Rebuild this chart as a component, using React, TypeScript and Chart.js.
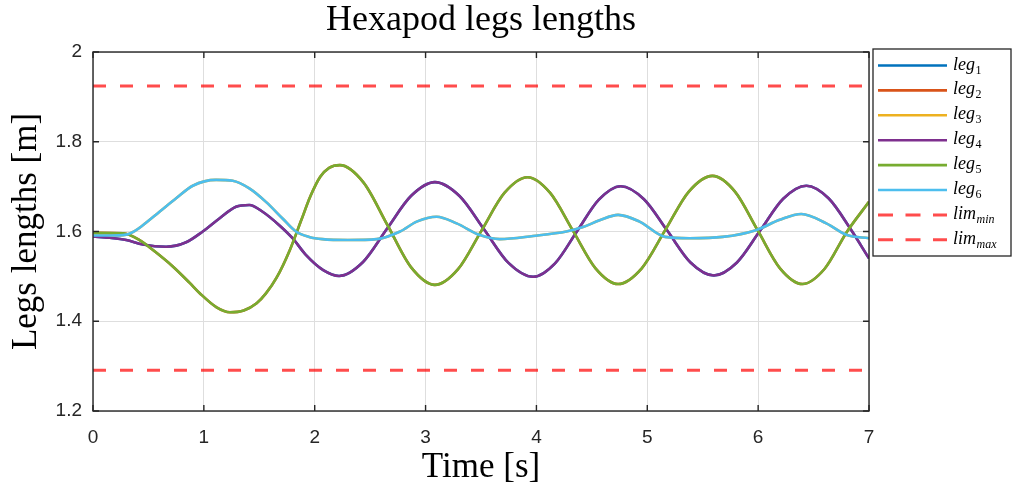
import { useEffect, useRef } from "react";
import { Chart, registerables } from "chart.js";

Chart.register(...registerables);

// ---- data ----
const leg4Time = [0, 0.15, 0.3, 0.45, 0.66, 0.84, 0.99, 1.14, 1.29, 1.41, 1.53, 1.68, 1.8, 1.92, 2.077, 2.22, 2.436, 2.652, 2.868, 3.084, 3.306, 3.527, 3.748, 3.97, 4.168, 4.365, 4.563, 4.76, 4.97, 5.18, 5.39, 5.6, 5.809, 6.018, 6.226, 6.435, 6.635, 6.835, 7.0];
const leg4Values = [1.589, 1.586, 1.581, 1.571, 1.566, 1.576, 1.6, 1.629, 1.655, 1.659, 1.644, 1.614, 1.585, 1.548, 1.514, 1.501, 1.532, 1.606, 1.679, 1.71, 1.679, 1.605, 1.53, 1.499, 1.529, 1.6, 1.671, 1.701, 1.672, 1.602, 1.531, 1.502, 1.531, 1.602, 1.673, 1.702, 1.674, 1.605, 1.54];

const leg5Time = [0, 0.27, 0.42, 0.57, 0.72, 0.87, 0.965, 1.115, 1.235, 1.36, 1.476, 1.56, 1.656, 1.776, 1.88, 1.96, 2.05, 2.13, 2.227, 2.441, 2.656, 2.87, 3.084, 3.293, 3.502, 3.711, 3.92, 4.124, 4.329, 4.533, 4.737, 4.95, 5.163, 5.375, 5.588, 5.791, 5.994, 6.197, 6.4, 6.6, 6.8, 7.0];
const leg5Values = [1.597, 1.596, 1.581, 1.553, 1.522, 1.486, 1.462, 1.431, 1.42, 1.424, 1.44, 1.462, 1.497, 1.559, 1.626, 1.678, 1.722, 1.742, 1.748, 1.709, 1.6145, 1.52, 1.481, 1.516, 1.601, 1.686, 1.721, 1.686, 1.602, 1.518, 1.483, 1.518, 1.6035, 1.689, 1.724, 1.689, 1.6035, 1.518, 1.483, 1.517, 1.599, 1.666];

const leg6Time = [0, 0.15, 0.3, 0.375, 0.45, 0.6, 0.75, 0.9, 1.11, 1.26, 1.41, 1.56, 1.71, 1.83, 1.95, 2.07, 2.3, 2.56, 2.77, 2.92, 3.1, 3.28, 3.49, 3.67, 3.97, 4.27, 4.42, 4.57, 4.737, 4.93, 5.16, 5.38, 5.68, 5.98, 6.195, 6.39, 6.615, 6.8, 7.0];
const leg6Values = [1.591, 1.591, 1.593, 1.601, 1.614, 1.644, 1.674, 1.702, 1.715, 1.713, 1.696, 1.666, 1.629, 1.6, 1.588, 1.583, 1.581, 1.583, 1.6, 1.622, 1.633, 1.618, 1.592, 1.583, 1.59, 1.6, 1.61, 1.625, 1.637, 1.622, 1.588, 1.585, 1.588, 1.603, 1.626, 1.639, 1.618, 1.592, 1.585];

// legs 1-3 lie underneath legs 4-6 in the reference
const leg1Time = leg4Time;
const leg1Values = leg4Values;
const leg2Time = leg5Time;
const leg2Values = leg5Values;
const leg3Time = leg6Time;
const leg3Values = leg6Values;

const limTime = [0, 7];
const limMinValue = 1.291;
const limMaxValue = 1.924;

const legendBase = ["leg", "leg", "leg", "leg", "leg", "leg", "lim", "lim"];
const legendSub = ["1", "2", "3", "4", "5", "6", "min", "max"];
const seriesColors = ["#0072BD", "#D95319", "#EDB120", "#7E2F8E", "#77AC30", "#4DBEEE", "rgba(255,0,0,0.7)", "rgba(255,0,0,0.7)"];

const titleText = "Hexapod legs lengths";
const xTitle = "Time [s]";
const yTitle = "Legs lengths [m]";

const W = 1013;
const H = 492;

function pts(t: number[], v: number[]) {
  return t.map((x, i) => ({ x, y: v[i] }));
}

const framePlugin = {
  id: "frameAndLegend",
  afterDraw(chart: any) {
    const { ctx, chartArea } = chart;
    const { left, right, top, bottom } = chartArea;
    const xs = chart.scales.x;
    const ys = chart.scales.y;
    ctx.save();
    ctx.strokeStyle = "#262626";
    ctx.lineWidth = 1.4;
    ctx.setLineDash([]);
    ctx.strokeRect(left, top, right - left, bottom - top);
    const tl = 6;
    ctx.beginPath();
    xs.ticks.forEach((t: any) => {
      const p = xs.getPixelForValue(t.value);
      ctx.moveTo(p, bottom);
      ctx.lineTo(p, bottom - tl);
      ctx.moveTo(p, top);
      ctx.lineTo(p, top + tl);
    });
    ys.ticks.forEach((t: any) => {
      const p = ys.getPixelForValue(t.value);
      ctx.moveTo(left, p);
      ctx.lineTo(left + tl, p);
      ctx.moveTo(right, p);
      ctx.lineTo(right - tl, p);
    });
    ctx.stroke();

    // legend
    const bx = 873;
    const by = 49;
    const bw = 138;
    const bh = 207;
    ctx.fillStyle = "#ffffff";
    ctx.fillRect(bx, by, bw, bh);
    ctx.strokeStyle = "#262626";
    ctx.lineWidth = 1.3;
    ctx.strokeRect(bx, by, bw, bh);
    const ds = chart.data.datasets;
    for (let i = 0; i < ds.length; i++) {
      const y = 65.5 + i * 24.9;
      ctx.beginPath();
      ctx.strokeStyle = ds[i].borderColor;
      ctx.lineWidth = i < 6 ? 2.6 : 3;
      ctx.setLineDash(i < 6 ? [] : [15, 12.5]);
      ctx.moveTo(878, y);
      ctx.lineTo(947, y);
      ctx.stroke();
      ctx.setLineDash([]);
      ctx.fillStyle = "#000000";
      ctx.textBaseline = "alphabetic";
      ctx.textAlign = "left";
      ctx.font = "italic 18px 'Liberation Serif'";
      const base = legendBase[i];
      ctx.fillText(base, 953, y + 4);
      const w = ctx.measureText(base).width;
      ctx.font = (i < 6 ? "" : "italic ") + "12px 'Liberation Serif'";
      ctx.fillText(legendSub[i], 953 + w + 0.5, y + 8);
    }
    ctx.restore();
  },
};

export default function App() {
  const ref = useRef<HTMLCanvasElement | null>(null);
  useEffect(() => {
    document.body.style.margin = "0";
    const canvas = ref.current;
    if (!canvas) return;
    const legSets = [
      [leg1Time, leg1Values],
      [leg2Time, leg2Values],
      [leg3Time, leg3Values],
      [leg4Time, leg4Values],
      [leg5Time, leg5Values],
      [leg6Time, leg6Values],
    ];
    const datasets: any[] = legSets.map((s, i) => ({
      label: legendBase[i] + "_" + legendSub[i],
      data: pts(s[0], s[1]),
      borderColor: seriesColors[i],
      backgroundColor: seriesColors[i],
      borderWidth: 2.6,
      pointRadius: 0,
      cubicInterpolationMode: "monotone",
      fill: false,
      order: 20 - i,
    }));
    datasets.push({
      label: "lim_min",
      data: pts(limTime, limTime.map(() => limMinValue)),
      borderColor: seriesColors[6],
      borderWidth: 3,
      borderDash: [13, 14],
      pointRadius: 0,
      fill: false,
      order: 2,
    });
    datasets.push({
      label: "lim_max",
      data: pts(limTime, limTime.map(() => limMaxValue)),
      borderColor: seriesColors[7],
      borderWidth: 3,
      borderDash: [13, 14],
      pointRadius: 0,
      fill: false,
      order: 1,
    });

    const chart = new Chart(canvas, {
      type: "line",
      data: { datasets },
      plugins: [framePlugin],
      options: {
        animation: false,
        responsive: false,
        devicePixelRatio: 1,
        layout: { padding: { top: 0, right: 144, left: 0, bottom: 0 } },
        plugins: {
          legend: { display: false },
          tooltip: { enabled: false },
          title: {
            display: true,
            text: titleText,
            fullSize: false,
            color: "#000000",
            font: { family: "'Liberation Serif'", size: 36, weight: "normal", lineHeight: 1 },
            padding: { top: 3, bottom: 13 },
          },
        },
        scales: {
          x: {
            type: "linear",
            min: 0,
            max: 7,
            ticks: {
              stepSize: 1,
              color: "#262626",
              padding: 15,
              font: { family: "'Liberation Sans'", size: 19 },
              maxRotation: 0,
            },
            grid: { color: "#dedede", lineWidth: 1, drawTicks: false },
            border: { display: false },
            title: {
              display: true,
              text: xTitle,
              color: "#000000",
              font: { family: "'Liberation Serif'", size: 35, lineHeight: 1 },
              padding: { top: 0, bottom: 6.5 },
            },
            afterFit: (scale: any) => {
              scale.height = 81;
            },
          },
          y: {
            type: "linear",
            min: 1.2,
            max: 2,
            ticks: {
              stepSize: 0.2,
              color: "#262626",
              padding: 11,
              font: { family: "'Liberation Sans'", size: 19 },
              callback: (v: any) => String(Number(Number(v).toFixed(1))),
            },
            grid: { color: "#dedede", lineWidth: 1, drawTicks: false },
            border: { display: false },
            title: {
              display: true,
              text: yTitle,
              color: "#000000",
              font: { family: "'Liberation Serif'", size: 35, lineHeight: 1 },
              padding: { top: 9.5, bottom: 0 },
            },
            afterFit: (scale: any) => {
              scale.width = 93;
            },
          },
        },
      },
    } as any);
    return () => chart.destroy();
  }, []);
  return (
    <div style={{ width: W, height: H, background: "#ffffff" }}>
      <canvas ref={ref} width={W} height={H} style={{ display: "block" }} />
    </div>
  );
}
